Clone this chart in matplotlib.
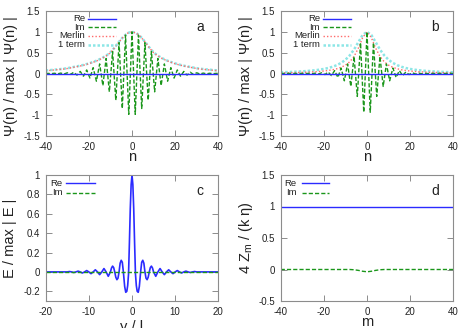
import numpy as np
import matplotlib
matplotlib.use("Agg")
import matplotlib.pyplot as plt

plt.rcParams['font.family'] = ['Liberation Sans', 'DejaVu Sans']

# ---- data ----
n_env = list(range(-40, 41, 2))
# positions of the Im swing extrema (panels a, b)
n_osc = [-40, -39, -37.5, -36, -34.5, -33, -31.5, -30, -28.5, -27, -25.5, -24, -22.5,
         -21, -19.5, -18, -16.5, -15, -13.5, -12, -10.5, -9, -7.5, -6, -4.5, -3, -1.5,
         0,
         1.5, 3, 4.5, 6, 7.5, 9, 10.5, 12, 13.5, 15, 16.5, 18, 19.5, 21, 22.5, 24, 25.5,
         27, 28.5, 30, 31.5, 33, 34.5, 36, 37.5, 39, 40]

# panel a
a_re = [0.0] * len(n_env)
a_im = [0.0, 0.003, -0.005, 0.006, -0.008, 0.01, -0.013, 0.017, -0.022, 0.03, -0.038, 0.05, -0.065,
        0.085, -0.11, 0.14, -0.185, 0.23, -0.29, 0.36, -0.44, 0.53, -0.64, 0.74, -0.84, 0.92, -0.98,
        1.0,
        -0.98, 0.92, -0.84, 0.74, -0.64, 0.53, -0.44, 0.36, -0.29, 0.23, -0.185, 0.14, -0.11, 0.085,
        -0.065, 0.05, -0.038, 0.03, -0.022, 0.017, -0.013, 0.01, -0.008, 0.006, -0.005, 0.003, 0.0]
a_merlin = [0.065, 0.075, 0.085, 0.095, 0.105, 0.12, 0.14, 0.16, 0.18, 0.205,
            0.235, 0.27, 0.31, 0.36, 0.42, 0.50, 0.62, 0.76, 0.88, 0.97,
            1.0,
            0.97, 0.88, 0.76, 0.62, 0.50, 0.42, 0.36, 0.31, 0.27, 0.235,
            0.205, 0.18, 0.16, 0.14, 0.12, 0.105, 0.095, 0.085, 0.075, 0.065]
a_one = [0.072, 0.081, 0.091, 0.101, 0.112, 0.127, 0.147, 0.167, 0.187, 0.212,
         0.242, 0.277, 0.317, 0.367, 0.427, 0.507, 0.626, 0.765, 0.884, 0.972,
         1.0,
         0.972, 0.884, 0.765, 0.626, 0.507, 0.427, 0.367, 0.317, 0.277, 0.242,
         0.212, 0.187, 0.167, 0.147, 0.127, 0.112, 0.101, 0.091, 0.081, 0.072]

# panel b
b_re = [0.0] * len(n_env)
b_im = [0.0, 0.002, -0.002, 0.002, -0.002, 0.002, -0.002, 0.002, -0.003, 0.004, -0.006, 0.008, -0.012,
        0.018, -0.025, 0.035, -0.05, 0.07, -0.095, 0.13, -0.175, 0.23, -0.31, 0.41, -0.55, 0.74, -0.93,
        1.0,
        -0.93, 0.74, -0.55, 0.41, -0.31, 0.23, -0.175, 0.13, -0.095, 0.07, -0.05, 0.035, -0.025, 0.018,
        -0.012, 0.008, -0.006, 0.004, -0.003, 0.002, -0.002, 0.002, -0.002, 0.002, -0.002, 0.002, 0.0]
b_merlin = [0.015, 0.017, 0.019, 0.021, 0.024, 0.027, 0.031, 0.036, 0.042, 0.049,
            0.059, 0.072, 0.089, 0.113, 0.148, 0.20, 0.28, 0.41, 0.61, 0.862,
            1.0,
            0.862, 0.61, 0.41, 0.28, 0.20, 0.148, 0.113, 0.089, 0.072, 0.059,
            0.049, 0.042, 0.036, 0.031, 0.027, 0.024, 0.021, 0.019, 0.017, 0.015]
b_one = [0.03, 0.033, 0.036, 0.041, 0.046, 0.052, 0.059, 0.068, 0.078, 0.092,
         0.109, 0.131, 0.161, 0.20, 0.254, 0.329, 0.434, 0.576, 0.754, 0.925,
         1.0,
         0.925, 0.754, 0.576, 0.434, 0.329, 0.254, 0.20, 0.161, 0.131, 0.109,
         0.092, 0.078, 0.068, 0.059, 0.052, 0.046, 0.041, 0.036, 0.033, 0.03]

# panel c
c_y = [-20, -15, -14.5, -14, -13.5, -13, -12.5, -12, -11.5, -11, -10.5, -10, -9.5, -9,
       -8.5, -8, -7.5, -7, -6.5, -6, -5.5, -5, -4.75, -4.5, -4.25, -4, -3.75, -3.5,
       -3.25, -3, -2.75, -2.5, -2.25, -2, -1.7, -1.45, -1.2, -1.0, -0.8, -0.6, -0.4,
       -0.2, 0,
       0.2, 0.4, 0.6, 0.8, 1.0, 1.2, 1.45, 1.7, 2, 2.25, 2.5, 2.75, 3, 3.25, 3.5,
       3.75, 4, 4.25, 4.5, 4.75, 5, 5.5, 6, 6.5, 7, 7.5, 8, 8.5, 9, 9.5, 10, 10.5,
       11, 11.5, 12, 12.5, 13, 13.5, 14, 14.5, 15, 20]
c_re = [0, 0, 0.004, 0, -0.006, 0, 0.008, 0, -0.011, 0, 0.014, 0, -0.018, 0,
        0.022, 0, -0.028, 0, 0.035, 0, -0.045, 0, 0.04, 0.06, 0.045, 0, -0.055, -0.08,
        -0.065, 0, 0.09, 0.12, 0.10, 0, -0.15, -0.21, -0.20, -0.14, -0.02, 0.30, 0.65,
        0.90, 1.0,
        0.90, 0.65, 0.30, -0.02, -0.14, -0.20, -0.21, -0.15, 0, 0.10, 0.12, 0.09, 0, -0.065, -0.08,
        -0.055, 0, 0.045, 0.06, 0.04, 0, -0.045, 0, 0.035, 0, -0.028, 0, 0.022, 0, -0.018, 0, 0.014,
        0, -0.011, 0, 0.008, 0, -0.006, 0, 0.004, 0, 0]
c_im = [0.0] * len(c_y)

# panel d
d_m = [-40, -8, -6, -4, -2, 0, 2, 4, 6, 8, 40]
d_re = [1.0] * len(d_m)
d_im = [0.0, 0.0, -0.004, -0.014, -0.028, -0.036, -0.028, -0.014, -0.004, 0.0, 0.0]

# ---- styles ----
BLUE = '#2b2bff'
GREEN = '#1a961a'
RED = '#ff6a6a'
CYAN = '#8ce6e6'
GRAY = '#8c8c8c'
TXT = '#222222'

W, H = 469, 328
fig = plt.figure(figsize=(W / 100, H / 100), dpi=100)


def px_axes(left, top, right, bottom):
    return fig.add_axes([left / W, 1 - bottom / H, (right - left) / W, (bottom - top) / H])


def style(ax, xlim, ylim, xticks, yticks):
    ax.set_xlim(*xlim)
    ax.set_ylim(*ylim)
    ax.set_xticks(xticks)
    ax.set_yticks(yticks)
    ax.set_xticklabels(['%g' % v for v in xticks])
    ax.set_yticklabels(['%g' % v for v in yticks])
    ax.tick_params(direction='in', length=4, width=0.7, color=GRAY, labelsize=7,
                   top=True, right=True, pad=4, labelcolor=TXT)
    for s in ax.spines.values():
        s.set_color(GRAY)
        s.set_linewidth(0.8)


def key(ax, entries, xt, x0, x1, y0, dy):
    for i, (label, kw) in enumerate(entries):
        y = y0 - i * dy
        ax.text(xt, y, label, transform=ax.transAxes, ha='right', va='center',
                fontsize=6.8, color=TXT)
        ax.plot([x0, x1], [y, y], transform=ax.transAxes, **kw)


re_kw = dict(color=BLUE, lw=1.0)
im_kw = dict(color=GREEN, lw=1.0, dashes=(3, 1.5))
me_kw = dict(color=RED, lw=1.0, dashes=(1, 1.5))
one_kw = dict(color=CYAN, lw=1.8, dashes=(1, 0.8))

# panels a and b
for left, lab, re, im, mer, one in [(45.7, 'a', a_re, a_im, a_merlin, a_one),
                                      (280.7, 'b', b_re, b_im, b_merlin, b_one)]:
    ax = px_axes(left, 11, left + 172.6, 136)
    ax.plot(n_env, one, **one_kw)
    ax.plot(n_env, mer, **me_kw)
    ax.plot(n_osc, im, **im_kw)
    ax.plot(n_env, re, **re_kw)
    style(ax, (-40, 40), (-1.5, 1.5), [-40, -20, 0, 20, 40],
          [-1.5, -1, -0.5, 0, 0.5, 1, 1.5])
    key(ax, [('Re', re_kw), ('Im', im_kw), ('Merlin', me_kw), ('1 term', one_kw)],
        0.228, 0.245, 0.407, 0.94, 0.07)
    ax.text(0.895, 0.875, lab, transform=ax.transAxes, fontsize=10, ha='center',
            va='center', color=TXT)
    fig.text((left - 35) / W, 1 - 76 / H, 'Ψ(n) / max | Ψ(n) |', rotation=90,
             ha='center', va='center', fontsize=10.5, color=TXT)
    fig.text((left + 86.3) / W, 1 - 157 / H, 'n', ha='center',
             va='center', fontsize=10.5, color=TXT)

# panel c
ax = px_axes(45.7, 175, 218.3, 301)
ax.plot(c_y, c_re, color=BLUE, lw=1.2)
ax.plot(c_y, c_im, **im_kw)
style(ax, (-20, 20), (-0.3, 1.0), [-20, -10, 0, 10, 20],
      [-0.2, 0, 0.2, 0.4, 0.6, 0.8, 1])
key(ax, [('Re', dict(color=BLUE, lw=1.0)), ('Im', im_kw)],
    0.098, 0.118, 0.286, 0.934, 0.075)
ax.text(0.895, 0.87, 'c', transform=ax.transAxes, fontsize=10, ha='center',
        va='center', color=TXT)
fig.text(10.5 / W, 1 - 238 / H, 'E / max | E |', rotation=90, ha='center',
         va='center', fontsize=10.5, color=TXT)
fig.text(132 / W, -2.5 / H, 'y / l', ha='center', va='baseline', fontsize=10.5,
         color=TXT)

# panel d
ax = px_axes(280.7, 175, 453.3, 301)
ax.plot(d_m, d_re, **re_kw)
ax.plot(d_m, d_im, **im_kw)
style(ax, (-40, 40), (-0.5, 1.5), [-40, -20, 0, 20, 40],
      [-0.5, 0, 0.5, 1, 1.5])
key(ax, [('Re', re_kw), ('Im', im_kw)],
    0.093, 0.122, 0.282, 0.934, 0.075)
ax.text(0.895, 0.87, 'd', transform=ax.transAxes, fontsize=10, ha='center',
        va='center', color=TXT)
fig.text(246 / W, 1 - 238 / H, '4 Z$_\\mathregular{m}$ / (k η)', rotation=90,
         ha='center', va='center', fontsize=10.5, color=TXT)
fig.text(367 / W, 1 - 322 / H, 'm', ha='center', va='center', fontsize=10.5,
         color=TXT)

fig.savefig('out.png', dpi=100)
